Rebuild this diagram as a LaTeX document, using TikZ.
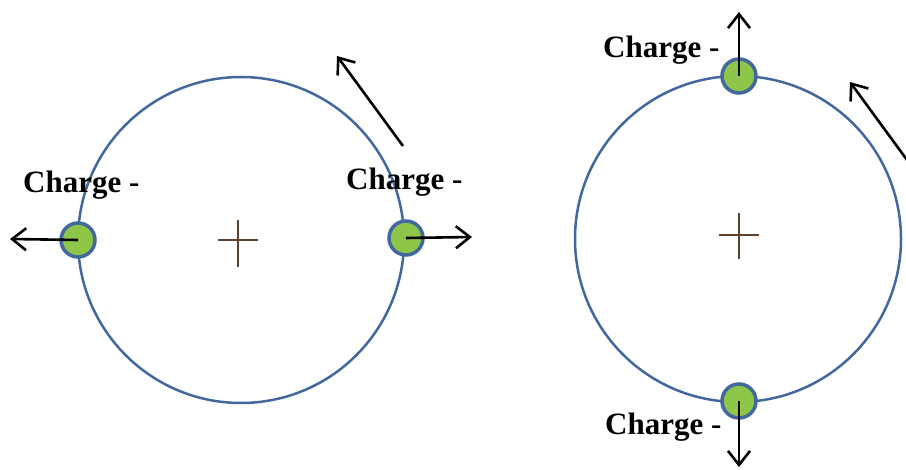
\documentclass[tikz,border=0pt]{standalone}
\usepackage{fontspec}
\setmainfont{Liberation Serif}
\usetikzlibrary{arrows.meta}
\definecolor{ringblue}{RGB}{66,104,158}
\definecolor{dotgreen}{RGB}{141,198,72}
\definecolor{crossbrown}{RGB}{92,66,46}
\tikzset{
  ring/.style={circle, draw=ringblue, line width=2.5pt, inner sep=0pt, minimum size=326pt},
  charge/.style={circle, draw=ringblue, fill=dotgreen, line width=3.5pt, inner sep=0pt, minimum size=34pt},
  force/.style={draw=black, line width=2.6pt, -{Straight Barb[length=14pt,width=22pt,line width=2.6pt]}},
  lbl/.style={anchor=base west, inner sep=0pt, font=\fontsize{31pt}{33pt}\selectfont\bfseries},
  crossline/.style={draw=crossbrown, line width=1.5pt}
}
\begin{document}
\begin{tikzpicture}[x=1pt,y=-1pt]
\useasboundingbox (0,0) rectangle (906,470);
\clip (0,0) rectangle (906,470);
% left system
\node[ring] (ringL) at (241,240) {};
\coordinate (cL) at (238,240);
\draw[crossline] ([xshift=-20pt]cL) -- ([xshift=20pt]cL);
\draw[crossline] ([yshift=-27pt]cL) -- ([yshift=20pt]cL);
\node[charge] (qL1) at (78,240) {};
\node[charge] (qL2) at (406,238) {};
\coordinate (tL1) at (10,239);
\coordinate (tL2) at (472,237);
\draw[force] (qL1.center) -- (tL1);
\draw[force] (qL2.center) -- (tL2);
\coordinate (rotL0) at (403,146);
\coordinate (rotL1) at (337,56);
\draw[force] (rotL0) -- (rotL1);
\node[lbl] (lL1) at (23,193) {Charge -};
\node[lbl] (lL2) at (346,190) {Charge -};
% right system
\node[ring] (ringR) at (738,239) {};
\coordinate (cR) at (739,235);
\draw[crossline] ([xshift=-20pt]cR) -- ([xshift=20pt]cR);
\draw[crossline] ([yshift=-24pt]cR) -- ([yshift=22pt]cR);
\node[charge] (qR1) at (739,76) {};
\node[charge] (qR2) at (739,401) {};
\coordinate (tR1) at (739,12);
\coordinate (tR2) at (739,467);
\draw[force] (qR1.center) -- (tR1);
\draw[force] (qR2.center) -- (tR2);
\coordinate (rotR0) at (918,175);
\coordinate (rotR1) at (850,82);
\draw[force] (rotR0) -- (rotR1);
\node[lbl] (lR1) at (603,58) {Charge -};
\node[lbl] (lR2) at (605,435) {Charge -};
\end{tikzpicture}
\end{document}
